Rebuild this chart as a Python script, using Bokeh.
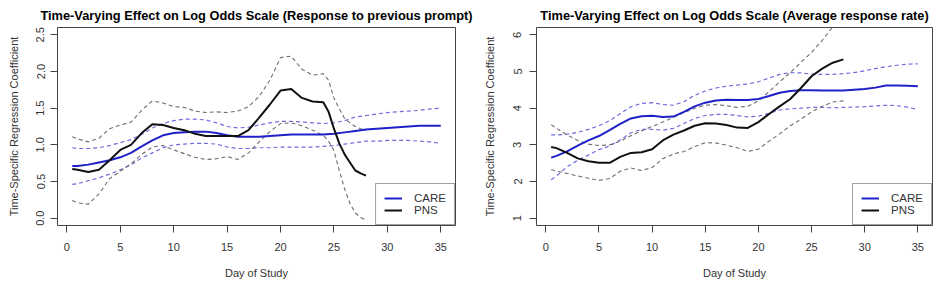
from bokeh.plotting import figure
from bokeh.layouts import row
from bokeh.models import FixedTicker, Range1d, Legend, LegendItem
from bokeh.embed import file_html
from bokeh.resources import INLINE

# ---------------- data ----------------
care_days = [0.5, 1, 2, 3, 4, 5, 6, 7, 8, 9, 10, 11, 12, 13, 14, 15, 16, 17, 18,
             19, 20, 21, 22, 23, 24, 25, 26, 27, 28, 29, 30, 31, 32, 33, 34, 35]

# Left panel: response to previous prompt
left_care = [0.71, 0.71, 0.73, 0.76, 0.79, 0.83, 0.89, 0.98, 1.06, 1.13, 1.16, 1.17,
             1.18, 1.18, 1.16, 1.13, 1.11, 1.11, 1.11, 1.12, 1.13, 1.14, 1.14, 1.14,
             1.14, 1.15, 1.17, 1.19, 1.21, 1.22, 1.23, 1.24, 1.25, 1.26, 1.26, 1.26]
left_care_hi = [0.96, 0.95, 0.95, 0.96, 0.99, 1.03, 1.07, 1.14, 1.23, 1.29, 1.33, 1.35,
                1.35, 1.34, 1.30, 1.25, 1.23, 1.24, 1.27, 1.30, 1.32, 1.32, 1.31, 1.30,
                1.29, 1.30, 1.33, 1.38, 1.40, 1.42, 1.44, 1.45, 1.46, 1.47, 1.49, 1.50]
left_care_lo = [0.46, 0.47, 0.51, 0.55, 0.60, 0.66, 0.73, 0.82, 0.89, 0.96, 1.00, 1.01,
                1.02, 1.02, 1.01, 0.97, 0.95, 0.95, 0.96, 0.96, 0.97, 0.97, 0.97, 0.97,
                0.98, 0.99, 1.01, 1.03, 1.05, 1.05, 1.06, 1.06, 1.06, 1.05, 1.04, 1.02]

left_pns_days = [0.5, 1, 2, 3, 4, 5, 6, 7, 8, 9, 10, 11, 12, 13, 14, 15, 16, 17, 18,
                 19, 20, 21, 22, 23, 24, 24.5, 25, 25.5, 26, 26.5, 27, 27.5, 28]
left_pns = [0.67, 0.66, 0.63, 0.66, 0.79, 0.93, 1.00, 1.16, 1.28, 1.27, 1.23, 1.20,
            1.15, 1.12, 1.12, 1.12, 1.12, 1.20, 1.37, 1.55, 1.74, 1.76, 1.64, 1.59,
            1.58, 1.45, 1.22, 1.02, 0.87, 0.76, 0.65, 0.61, 0.58]
left_pns_hi = [1.11, 1.08, 1.04, 1.09, 1.22, 1.27, 1.31, 1.47, 1.60, 1.57, 1.52, 1.51,
               1.46, 1.44, 1.45, 1.44, 1.46, 1.52, 1.66, 1.88, 2.19, 2.21, 2.03, 1.95,
               1.97, 1.88, 1.64, 1.49, 1.36, 1.30, 1.25, 1.22, 1.20]
left_pns_lo = [0.24, 0.21, 0.19, 0.33, 0.54, 0.64, 0.74, 0.87, 0.97, 0.99, 0.93, 0.88,
               0.83, 0.80, 0.81, 0.84, 0.80, 0.89, 1.04, 1.18, 1.29, 1.30, 1.26, 1.20,
               1.13, 1.05, 0.92, 0.65, 0.40, 0.20, 0.07, 0.01, -0.03]

# Right panel: average response rate
right_care = [2.65, 2.70, 2.82, 2.98, 3.12, 3.24, 3.40, 3.57, 3.72, 3.78, 3.79, 3.76,
              3.77, 3.90, 4.05, 4.15, 4.21, 4.23, 4.22, 4.22, 4.25, 4.33, 4.42, 4.47,
              4.49, 4.49, 4.48, 4.48, 4.48, 4.50, 4.52, 4.56, 4.62, 4.62, 4.61, 4.60]
right_care_hi = [3.27, 3.27, 3.29, 3.34, 3.42, 3.52, 3.66, 3.85, 4.04, 4.13, 4.15, 4.10,
                 4.08, 4.18, 4.35, 4.47, 4.55, 4.60, 4.63, 4.66, 4.72, 4.82, 4.92, 4.97,
                 4.96, 4.93, 4.92, 4.92, 4.94, 4.97, 5.02, 5.08, 5.13, 5.17, 5.20, 5.21]
right_care_lo = [2.05, 2.15, 2.40, 2.58, 2.72, 2.87, 2.97, 3.13, 3.33, 3.42, 3.42, 3.40,
                 3.45, 3.58, 3.72, 3.80, 3.83, 3.83, 3.80, 3.76, 3.78, 3.86, 3.95, 3.98,
                 4.00, 4.02, 4.02, 4.01, 4.02, 4.03, 4.04, 4.06, 4.08, 4.07, 4.03, 3.96]

right_pns_days = [0.5, 1, 2, 3, 4, 5, 6, 7, 8, 9, 10, 11, 12, 13, 14, 15, 16, 17, 18,
                  19, 20, 21, 22, 23, 24, 25, 26, 27, 28]
right_pns = [2.94, 2.91, 2.78, 2.63, 2.55, 2.51, 2.51, 2.67, 2.78, 2.80, 2.88, 3.12,
             3.28, 3.39, 3.52, 3.59, 3.58, 3.54, 3.47, 3.46, 3.62, 3.84, 4.05, 4.25,
             4.55, 4.87, 5.08, 5.24, 5.33]
right_pns_hi = [3.55, 3.45, 3.27, 3.12, 3.02, 2.98, 3.00, 3.10, 3.25, 3.38, 3.50, 3.62,
                3.75, 3.88, 4.00, 4.08, 4.10, 4.07, 4.02, 4.05, 4.20, 4.45, 4.72, 4.97,
                5.25, 5.52, 5.85, 6.22, 6.55]
right_pns_lo = [2.32, 2.29, 2.22, 2.15, 2.09, 2.03, 2.08, 2.28, 2.37, 2.30, 2.38, 2.62,
                2.75, 2.82, 2.95, 3.06, 3.05, 2.99, 2.92, 2.82, 2.88, 3.10, 3.30, 3.52,
                3.70, 3.90, 4.05, 4.17, 4.20]

x_ticks = [0, 5, 10, 15, 20, 25, 30, 35]
left_y_ticks = [0.0, 0.5, 1.0, 1.5, 2.0, 2.5]
left_y_labels = ["0.0", "0.5", "1.0", "1.5", "2.0", "2.5"]
right_y_ticks = [1, 2, 3, 4, 5, 6]
right_y_labels = ["1", "2", "3", "4", "5", "6"]

titles = ["Time-Varying Effect on Log Odds Scale (Response to previous prompt)",
          "Time-Varying Effect on Log Odds Scale (Average response rate)"]
x_label = "Day of Study"
y_label = "Time-Specific Regression Coefficient"
series_names = ["CARE", "PNS"]

# ---------------- styles ----------------
FONT = "Liberation Sans"
CARE_COL = "#2020c8"
CARE_CI_COL = "#6d6ddf"
PNS_COL = "#111111"
PNS_CI_COL = "#6e6e6e"
AX_COL = "#444444"
TXT_COL = "#333333"


def make_panel(title, title_offset, width, mb_left, mb_right, yr, yticks, ylabels,
               lab_std, ax_std, care, care_hi, care_lo, pns_days, pns, pns_hi, pns_lo):
    p = figure(width=width, height=281, output_backend="svg", toolbar_location=None,
               x_range=Range1d(-0.88, 36.38), y_range=Range1d(*yr),
               min_border_left=mb_left, min_border_right=mb_right,
               min_border_top=26, min_border_bottom=55)
    p.title.text = title
    p.title.align = "center"
    p.title.offset = title_offset
    p.title.text_font = FONT
    p.title.text_font_size = "12.8px"
    p.title.text_font_style = "bold"
    p.title.text_color = "#000000"
    p.title.standoff = 10
    p.xgrid.visible = False
    p.ygrid.visible = False
    p.outline_line_color = AX_COL
    p.outline_line_width = 1
    p.background_fill_color = "white"
    p.border_fill_color = "white"

    for ax in (p.xaxis[0], p.yaxis[0]):
        ax.axis_line_color = None
        ax.major_tick_line_color = AX_COL
        ax.major_tick_out = 7
        ax.major_tick_in = 0
        ax.minor_tick_line_color = None
        ax.major_label_text_font = FONT
        ax.major_label_text_font_size = "11px"
        ax.major_label_text_color = TXT_COL
        ax.axis_label_text_font = FONT
        ax.axis_label_text_font_size = "11px"
        ax.axis_label_text_font_style = "normal"
        ax.axis_label_text_color = TXT_COL

    p.xaxis.ticker = FixedTicker(ticks=x_ticks)
    p.xaxis.major_label_standoff = 10
    p.xaxis.axis_label = x_label
    p.xaxis.axis_label_standoff = 13

    p.yaxis.ticker = FixedTicker(ticks=yticks)
    p.yaxis.major_label_overrides = {t: l for t, l in zip(yticks, ylabels)}
    p.yaxis.major_label_orientation = "vertical"
    p.yaxis.major_label_standoff = lab_std
    p.yaxis.axis_label = y_label
    p.yaxis.axis_label_standoff = ax_std

    p.line(care_days, care_hi, line_color=CARE_CI_COL, line_width=1.2, line_dash="4 3")
    p.line(care_days, care_lo, line_color=CARE_CI_COL, line_width=1.2, line_dash="4 3")
    p.line(pns_days, pns_hi, line_color=PNS_CI_COL, line_width=1.1, line_dash="4 3")
    p.line(pns_days, pns_lo, line_color=PNS_CI_COL, line_width=1.1, line_dash="4 3")
    r_care = p.line(care_days, care, line_color=CARE_COL, line_width=2)
    r_pns = p.line(pns_days, pns, line_color=PNS_COL, line_width=2)

    legend = Legend(items=[LegendItem(label=series_names[0], renderers=[r_care]),
                           LegendItem(label=series_names[1], renderers=[r_pns])],
                    location="bottom_right", margin=0, padding=8, spacing=0,
                    glyph_width=18, glyph_height=12, label_height=12,
                    label_standoff=12, label_text_font=FONT,
                    label_text_font_size="11.5px", label_text_color=TXT_COL,
                    border_line_color=AX_COL, border_line_width=1,
                    background_fill_color="white", background_fill_alpha=1.0)
    p.add_layout(legend)
    return p


p1 = make_panel(titles[0], 21, 480, 57, 25, (-0.1, 2.6), left_y_ticks, left_y_labels, 6, 14,
                left_care, left_care_hi, left_care_lo,
                left_pns_days, left_pns, left_pns_hi, left_pns_lo)
p2 = make_panel(titles[1], 14, 465, 56, 13, (0.8, 6.2), right_y_ticks, right_y_labels, 8, 15,
                right_care, right_care_hi, right_care_lo,
                right_pns_days, right_pns, right_pns_hi, right_pns_lo)

layout = row(p1, p2)
open("out.html", "w").write(file_html(layout, INLINE))
